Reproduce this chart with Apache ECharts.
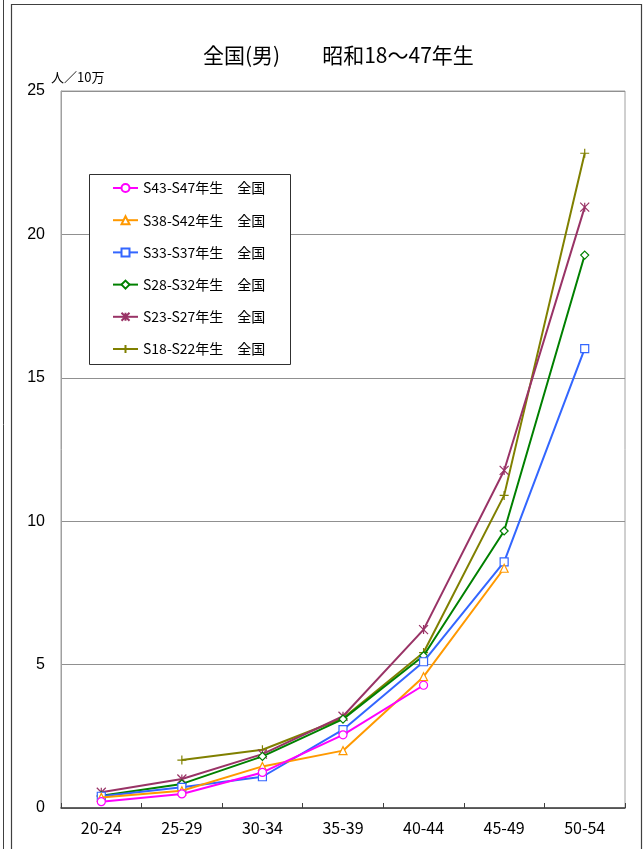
<!DOCTYPE html>
<html>
<head>
<meta charset="utf-8">
<script src="https://cdn.jsdelivr.net/npm/echarts@6/dist/echarts.min.js"></script>
<style>
html,body{margin:0;padding:0;background:#fff;}
#chart{width:643px;height:849px;}
</style>
</head>
<body>
<div id="chart"></div>
<script>
const titleText = '全国(男)　　昭和18～47年生';
const unitText = '人／10万';
const categories = ['20-24', '25-29', '30-34', '35-39', '40-44', '45-49', '50-54'];
const seriesNames = ['S43-S47年生　全国', 'S38-S42年生　全国', 'S33-S37年生　全国', 'S28-S32年生　全国', 'S23-S27年生　全国', 'S18-S22年生　全国'];
const s43 = [0.22, 0.49, 1.24, 2.55, 4.28, null, null];
const s38 = [0.37, 0.60, 1.45, 2.00, 4.58, 8.36, null];
const s33 = [0.41, 0.72, 1.09, 2.73, 5.10, 8.58, 16.02];
const s28 = [0.43, 0.84, 1.80, 3.10, 5.31, 9.66, 19.28];
const s23 = [0.55, 1.01, 1.88, 3.20, 6.22, 11.77, 20.95];
const s18 = [null, 1.67, 2.03, 3.13, 5.42, 10.90, 22.83];
const yTicks = [0, 5, 10, 15, 20, 25];

const colors = ['#FF00FF', '#FF9900', '#3366FF', '#008000', '#993366', '#808000'];
const symbols = [
  'circle', 'triangle', 'rect', 'diamond',
  'path://M0 0 L10 10 M10 0 L0 10 M5 0 L5 10',
  'path://M5 0 L5 10 M0 5 L10 5'
];
const dataSets = [s43, s38, s33, s28, s23, s18];

const chart = echarts.init(document.getElementById('chart'), null, {renderer: 'canvas'});
const series = dataSets.map((d, i) => ({
  name: seriesNames[i],
  type: 'line',
  data: d,
  symbol: symbols[i],
  symbolSize: i >= 4 ? 9 : 8,
  showSymbol: true,
  connectNulls: false,
  lineStyle: {color: colors[i], width: 2},
  itemStyle: {color: '#ffffff', borderColor: colors[i], borderWidth: 1.2},
  emphasis: {disabled: true},
  z: 10 - i
}));

chart.setOption({
  animation: false,
  backgroundColor: '#ffffff',
  title: {
    text: titleText,
    left: 203, top: 44, padding: 0,
    textStyle: {fontFamily: 'Noto Sans CJK JP', fontSize: 21, fontWeight: 'normal', color: '#000', lineHeight: 22}
  },
  grid: {left: 61, right: 18, top: 91, bottom: 41, show: true, borderColor: '#a0a0a0', borderWidth: 1},
  legend: {
    orient: 'vertical',
    left: 112, top: 181, padding: 0,
    itemWidth: 25, itemHeight: 10, itemGap: 18.2,
    textStyle: {fontFamily: 'Noto Sans CJK JP', fontSize: 14, color: '#000', lineHeight: 14},
    data: seriesNames
  },
  xAxis: {
    type: 'category',
    data: categories,
    boundaryGap: true,
    axisLine: {lineStyle: {color: '#404040', width: 1.5}},
    axisTick: {show: true, inside: true, length: 5, lineStyle: {color: '#404040'}},
    axisLabel: {fontFamily: 'Noto Sans CJK JP', fontSize: 16, color: '#000', margin: 12},
    splitLine: {show: false}
  },
  yAxis: {
    type: 'value',
    min: 0, max: 25, interval: 5,
    axisLine: {show: true, lineStyle: {color: '#a0a0a0'}},
    axisTick: {show: false},
    axisLabel: {fontFamily: 'Liberation Sans', fontSize: 16, color: '#000', margin: 16,
      formatter: v => yTicks.includes(v) ? String(v) : ''},
    splitLine: {show: true, lineStyle: {color: '#909090', width: 1}}
  },
  graphic: [
    {type: 'line', shape: {x1: 3.5, y1: 0, x2: 3.5, y2: 849}, style: {stroke: '#404040', lineWidth: 1}},
    {type: 'polyline', shape: {points: [[11.5, 849], [11.5, 4.5], [641.5, 4.5], [641.5, 849]]}, style: {stroke: '#404040', lineWidth: 1.2, fill: null}},
    {type: 'rect', shape: {x: 89.5, y: 174.5, width: 201, height: 190}, style: {stroke: '#303030', lineWidth: 1, fill: '#ffffff'}, z: 1},
    {type: 'text', left: 51, top: 71, style: {text: unitText, font: '13px "Noto Sans CJK JP"', fill: '#000'}}
  ],
  series: series
});
</script>
</body>
</html>
